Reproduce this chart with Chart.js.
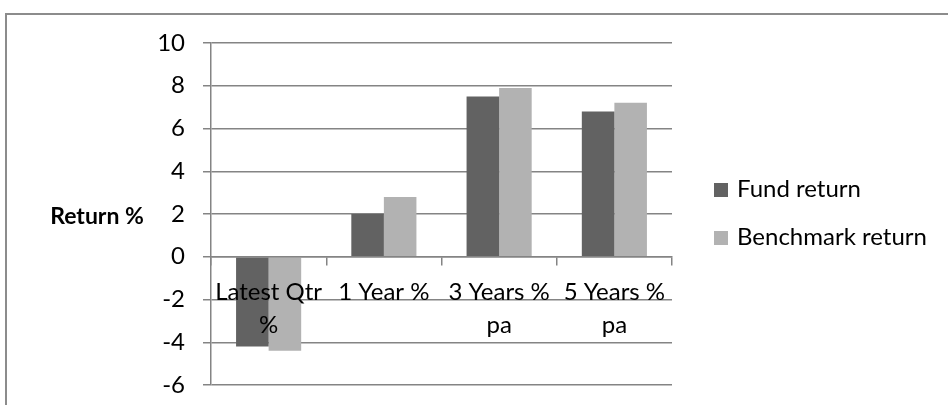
<!DOCTYPE html>
<html>
<head>
<meta charset="utf-8">
<script src="https://cdn.jsdelivr.net/npm/chart.js@4.4.1/dist/chart.umd.min.js"></script>
<style>
  html, body { margin: 0; padding: 0; background: #ffffff; }
  #wrap { position: relative; width: 948px; height: 405px; overflow: hidden; }
  #frame { position: absolute; left: 5px; top: 13px; width: 960px; height: 420px;
           border-left: 2px solid #8c8c8c; border-top: 2px solid #8c8c8c; }
  canvas { position: absolute; left: 0; top: 0; }
</style>
</head>
<body>
<div id="wrap">
  <div id="frame"></div>
  <canvas id="chart" width="948" height="405"></canvas>
</div>
<script>
// Return periods (multi-line labels under the zero line)
const categories = [['Latest Qtr', '%'], ['1 Year %'], ['3 Years %', 'pa'], ['5 Years %', 'pa']];
const seriesNames = ['Fund return', 'Benchmark return'];
const fundReturn = [-4.2, 2.0, 7.5, 6.8];
const benchmarkReturn = [-4.4, 2.8, 7.9, 7.2];
const yTicks = [-6, -4, -2, 0, 2, 4, 6, 8, 10];
const yAxisTitle = 'Return %';

const FONT = 'Lato, "Open Sans", sans-serif';
const GRID = '#848484';

// Horizontal axis title on the left and a legend to the right of the plot
const sidePlugin = {
  id: 'sideLabels',
  afterDraw(chart) {
    const { ctx, chartArea } = chart;
    const midY = (chartArea.top + chartArea.bottom) / 2;
    ctx.save();
    ctx.fillStyle = '#000000';
    ctx.font = 'bold 23px ' + FONT;
    ctx.textAlign = 'center';
    ctx.textBaseline = 'middle';
    ctx.fillText(yAxisTitle, 97, midY + 3);

    ctx.font = '24px ' + FONT;
    ctx.textAlign = 'left';
    const x0 = chartArea.right + 42;
    const gap = 48;
    const startY = midY - gap / 2 - 2;
    chart.data.datasets.forEach((ds, i) => {
      const cy = startY + i * gap;
      ctx.fillStyle = ds.backgroundColor;
      ctx.fillRect(x0, cy - 5, 14, 14);
      ctx.fillStyle = '#000000';
      ctx.fillText(ds.label, x0 + 23, cy + 1);
    });
    ctx.restore();
  }
};

new Chart(document.getElementById('chart'), {
  type: 'bar',
  data: {
    labels: categories,
    datasets: [
      { label: seriesNames[0], data: fundReturn, backgroundColor: '#626262',
        categoryPercentage: 0.565, barPercentage: 1.0 },
      { label: seriesNames[1], data: benchmarkReturn, backgroundColor: '#b2b2b2',
        categoryPercentage: 0.565, barPercentage: 1.0 }
    ]
  },
  options: {
    responsive: false,
    animation: false,
    layout: { padding: { top: 43, right: 276, bottom: 20, left: 0 } },
    plugins: {
      legend: { display: false },
      tooltip: { enabled: false }
    },
    scales: {
      x: {
        position: { y: 0 },
        afterFit(scale) {
          scale.paddingTop = 0; scale.paddingBottom = 0;
          scale.paddingLeft = 0; scale.paddingRight = 0;
        },
        grid: { drawOnChartArea: false, drawTicks: true, tickLength: 8, color: GRID, lineWidth: 1.5 },
        border: { display: true, color: GRID, width: 1.5, z: 1 },
        ticks: {
          z: 1,
          color: '#000000', padding: 11, maxRotation: 0, autoSkip: false,
          font: { family: FONT, size: 24, lineHeight: '33px' }
        }
      },
      y: {
        min: yTicks[0],
        max: yTicks[yTicks.length - 1],
        afterFit(scale) {
          scale.width = 211;
          scale.paddingTop = 0; scale.paddingBottom = 0;
        },
        afterBuildTicks(scale) { scale.ticks = yTicks.map(v => ({ value: v })); },
        grid: { color: GRID, lineWidth: 1.5, tickLength: 8 },
        border: { display: true, color: GRID, width: 1.5 },
        ticks: {
          color: '#000000', padding: 18,
          font: { family: FONT, size: 24 }
        }
      }
    }
  },
  plugins: [sidePlugin]
});
</script>
</body>
</html>
